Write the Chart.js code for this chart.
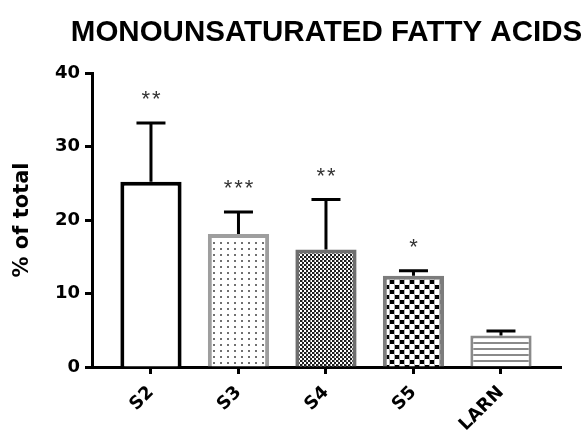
<!DOCTYPE html>
<html>
<head>
<meta charset="utf-8">
<script src="https://cdn.jsdelivr.net/npm/chart.js@4/dist/chart.umd.min.js"></script>
<style>
  html, body { margin: 0; padding: 0; background: #fff; }
  #wrap { width: 588px; height: 435px; position: relative; }
</style>
</head>
<body>
<div id="wrap"><canvas id="c"></canvas></div>
<script>
// Monounsaturated fatty acids, % of total (mean and SD) per group
const chartTitle = 'MONOUNSATURATED FATTY ACIDS';
const groups = ['S2', 'S3', 'S4', 'S5', 'LARN'];
const meanPct = [25.2, 18.1, 16.0, 12.4, 4.3];
const sdPct = [8.0, 3.0, 6.8, 0.7, 0.6];
const sigMarks = ['**', '***', '**', '*', ''];
const yTicks = [0, 10, 20, 30, 40];

// small tiled fills for the bars
function makePattern(w, h, draw) {
  const c = document.createElement('canvas');
  c.width = w; c.height = h;
  const g = c.getContext('2d');
  g.fillStyle = '#fff';
  g.fillRect(0, 0, w, h);
  draw(g);
  return g.createPattern(c, 'repeat');
}
const fillPlain = '#ffffff';
const fillDots = makePattern(7, 6, g => {
  g.fillStyle = '#707070';
  g.fillRect(3, 2, 2, 2);
});
const fillFineCheck = makePattern(4, 4, g => {
  g.fillStyle = '#1e1e1e';
  g.fillRect(0, 0, 2, 2);
  g.fillRect(2, 2, 2, 2);
  g.fillStyle = '#9a9a9a';
  g.fillRect(2, 0, 1, 2);
});
const fillCheck = makePattern(10, 10, g => {
  g.fillStyle = '#b0b0b0';
  g.fillRect(4, 0, 1, 10);
  g.fillRect(9, 0, 1, 10);
  g.fillStyle = '#000';
  g.fillRect(0, 0, 4, 4);
  g.fillRect(5, 5, 4, 4);
});
const fillStripes = makePattern(6, 6, g => {
  g.fillStyle = '#8a8a8a';
  g.fillRect(0, 0, 6, 2);
});

// title centred over the plot area
const plotTitle = {
  id: 'plotTitle',
  afterDraw(chart) {
    const { ctx, chartArea } = chart;
    ctx.save();
    ctx.fillStyle = '#000';
    ctx.font = 'bold 29.5px "Liberation Sans", Arial, sans-serif';
    ctx.textAlign = 'center';
    ctx.textBaseline = 'middle';
    ctx.fillText(chartTitle, (chartArea.left + chartArea.right) / 2, chartArea.top - 40);
    ctx.restore();
  }
};

// upward SD whiskers with caps, plus significance stars
const errorBars = {
  id: 'errorBars',
  afterDatasetsDraw(chart) {
    const { ctx, scales: { x, y } } = chart;
    ctx.save();
    ctx.strokeStyle = '#000';
    ctx.lineWidth = 3;
    meanPct.forEach((m, i) => {
      const px = x.getPixelForValue(i);
      const y0 = y.getPixelForValue(m);
      const y1 = y.getPixelForValue(m + sdPct[i]);
      ctx.beginPath();
      ctx.moveTo(px, y0);
      ctx.lineTo(px, y1);
      ctx.moveTo(px - 14.5, y1);
      ctx.lineTo(px + 14.5, y1);
      ctx.stroke();
      const stars = sigMarks[i];
      if (stars) {
        ctx.fillStyle = '#333';
        ctx.font = '22px "Liberation Sans"';
        ctx.textAlign = 'center';
        ctx.textBaseline = 'alphabetic';
        const n = stars.length;
        const cy = y1 - 29;
        for (let k = 0; k < n; k++) {
          ctx.fillText('*', px + (k - (n - 1) / 2) * 10.5, cy + 12.5);
        }
      }
    });
    ctx.restore();
  }
};

const boldFont = (size) => ({ family: 'DejaVu Sans', weight: 'bold', size: size, lineHeight: 1.2 });

new Chart(document.getElementById('c'), {
  type: 'bar',
  data: {
    datasets: [{
      data: groups.map((g, i) => ({ x: i, y: meanPct[i] })),
      backgroundColor: [fillPlain, fillDots, fillFineCheck, fillCheck, fillStripes],
      borderColor: ['#000000', '#9e9e9e', '#6e6e6e', '#7c7c7c', '#8a8a8a'],
      borderWidth: [4, 4, 4, 4, 3],
      borderSkipped: 'bottom',
      categoryPercentage: 0.7,
      barPercentage: 1
    }]
  },
  options: {
    responsive: true,
    maintainAspectRatio: false,
    animation: false,
    devicePixelRatio: 1,
    layout: { padding: { left: 0, right: 27, top: 73, bottom: 0 } },
    plugins: {
      legend: { display: false },
      tooltip: { enabled: false },
      title: { display: false }
    },
    scales: {
      x: {
        type: 'linear',
        min: -0.674,
        max: 4.686,
        offset: false,
        afterBuildTicks: s => { s.ticks = groups.map((g, i) => ({ value: i })); },
        afterFit: s => { s.height = 68; },
        ticks: {
          autoSkip: false,
          minRotation: 45,
          maxRotation: 45,
          padding: 8,
          color: '#000',
          font: boldFont(18),
          callback: v => groups[v] ?? ''
        },
        grid: { drawOnChartArea: false, drawTicks: true, tickLength: 7, tickWidth: 3, tickColor: '#000', offset: false },
        border: { display: true, color: '#000', width: 3 }
      },
      y: {
        min: 0,
        max: 40,
        afterBuildTicks: s => { s.ticks = yTicks.map(v => ({ value: v })); },
        afterFit: s => { s.width = 92; },
        ticks: { padding: 5, color: '#000', font: boldFont(18) },
        grid: { drawOnChartArea: false, drawTicks: true, tickLength: 7, tickWidth: 3, tickColor: '#000' },
        border: { display: true, color: '#000', width: 3 },
        title: {
          display: true,
          text: '% of total',
          color: '#000',
          font: boldFont(21),
          padding: { top: 10, bottom: 0 }
        }
      }
    }
  },
  plugins: [errorBars, plotTitle]
});
</script>
</body>
</html>
